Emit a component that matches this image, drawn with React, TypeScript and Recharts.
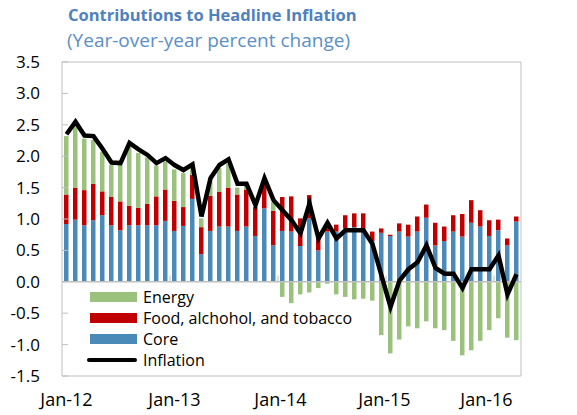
import React from 'react';
import { ComposedChart, Bar, Line, XAxis, YAxis, ReferenceLine } from 'recharts';

const monthNames = ['Jan', 'Feb', 'Mar', 'Apr', 'May', 'Jun', 'Jul', 'Aug', 'Sep', 'Oct', 'Nov', 'Dec'];
const years = ['12', '13', '14', '15', '16'];
const months: string[] = [];
years.forEach(y => monthNames.forEach(m => months.push(`${m}-${y}`)));
months.length = 51; // Jan-12 .. Mar-16

const core = [
  0.92, 0.99, 0.90, 0.98, 1.06, 0.90, 0.82, 0.90, 0.90, 0.90, 0.90, 0.97,
  0.81, 0.89, 1.32, 0.44, 0.81, 0.88, 0.88, 0.81, 0.88, 0.73, 1.17, 0.58,
  0.81, 0.80, 0.57, 1.01, 0.50, 0.80, 0.80, 0.85, 0.87, 0.85, 0.65, 0.78,
  0.73, 0.80, 0.72, 0.80, 1.02, 0.58, 0.65, 0.80, 0.72, 0.94, 0.88, 0.73,
  0.82, 0.58, 0.96,
];
const food = [
  0.47, 0.51, 0.56, 0.58, 0.38, 0.45, 0.46, 0.31, 0.28, 0.34, 0.46, 0.50,
  0.48, 0.30, 0.38, 0.43, 0.56, 0.55, 0.62, 0.58, 0.59, 0.46, 0.45, 0.55,
  0.54, 0.56, 0.44, 0.37, 0.22, 0.14, 0.11, 0.21, 0.22, 0.24, 0.15, 0.07,
  0.02, 0.13, 0.19, 0.24, 0.21, 0.36, 0.23, 0.26, 0.36, 0.36, 0.26, 0.25,
  0.17, 0.11, 0.08,
];
const energy = [
  0.93, 1.00, 0.82, 0.70, 0.63, 0.51, 0.58, 0.94, 0.87, 0.74, 0.49, 0.45,
  0.50, 0.54, 0.12, 0.14, 0.23, 0.38, 0.38, 0.11, 0.06, 0.00, 0.00, 0.14,
  -0.24, -0.34, -0.20, -0.17, -0.10, -0.03, -0.20, -0.24, -0.28, -0.27, -0.30, -0.85,
  -1.14, -0.92, -0.71, -0.74, -0.63, -0.74, -0.77, -0.94, -1.17, -1.09, -0.94, -0.77,
  -0.58, -0.89, -0.93,
];
const inflation = [
  2.35, 2.55, 2.33, 2.32, 2.12, 1.90, 1.89, 2.21, 2.11, 2.02, 1.89, 1.97,
  1.86, 1.78, 1.87, 1.04, 1.65, 1.86, 1.95, 1.56, 1.56, 1.22, 1.65, 1.30,
  1.14, 0.98, 0.77, 1.25, 0.69, 0.94, 0.69, 0.82, 0.82, 0.82, 0.60, 0.10,
  -0.40, 0.02, 0.20, 0.31, 0.58, 0.22, 0.13, 0.13, -0.10, 0.20, 0.20, 0.20,
  0.42, -0.20, 0.12,
];

const yTicks = [-1.5, -1, -0.5, 0, 0.5, 1, 1.5, 2, 2.5, 3, 3.5];
const xTicks = ['Jan-12', 'Jan-13', 'Jan-14', 'Jan-15', 'Jan-16'];
const yearBreaks = [12, 24, 36, 48];

const data = months.map((m, i) => ({
  month: m,
  idx: i + 0.5,
  core: core[i],
  food: food[i],
  energy: energy[i],
  inflation: inflation[i],
}));

const FONT = '"Open Sans", sans-serif';
const GRAY = '#bfbfbf';
const BLUE = '#4a8ab8';
const RED = '#c00000';
const GREEN = '#9bc27c';

// the source spreads its year labels slightly tighter than the bars
const labelShift: Record<string, number> = { 'Jan-12': 0, 'Jan-13': 0, 'Jan-14': -2, 'Jan-15': -6, 'Jan-16': -12 };

const LeftTick = ({ x, y, payload }: any) => (
  <g>
    <line x1={x} x2={x + 6} y1={y} y2={y} stroke={GRAY} />
    <text x={x - 22} y={y} dy="0.35em" textAnchor="end" fontSize={17} fill="#000" fontFamily={FONT}>
      {payload.value.toFixed(1)}
    </text>
  </g>
);

const RightTick = ({ x, y, payload }: any) => (
  <g>
    <line x1={x - 6} x2={x} y1={y} y2={y} stroke={GRAY} />
    <text x={x + 45} y={y} dy="0.35em" textAnchor="end" fontSize={17} fill="#000" fontFamily={FONT}>
      {payload.value.toFixed(1)}
    </text>
  </g>
);

const BottomTick = ({ x, y, payload }: any) => (
  <text x={x + (labelShift[payload.value] || 0)} y={y + 30} textAnchor="middle" fontSize={18} fill="#000" fontFamily={FONT}>
    {payload.value}
  </text>
);

const legendItems = [
  { name: 'Energy', color: GREEN, kind: 'bar' },
  { name: 'Food, alchohol, and tobacco', color: RED, kind: 'bar' },
  { name: 'Core', color: BLUE, kind: 'bar' },
  { name: 'Inflation', color: '#000', kind: 'line' },
];

export default function App() {
  return (
    <div style={{ position: 'absolute', left: 0, top: 0, width: 577, height: 415, background: '#fff', fontFamily: FONT }}>
      <div style={{ position: 'absolute', left: 68, top: 3, fontSize: 16.5, fontWeight: 700, color: '#4f81bd', whiteSpace: 'nowrap' }}>
        Contributions to Headline Inflation
      </div>
      <div style={{ position: 'absolute', left: 67, top: 27, fontSize: 19, color: '#5b8fc6', whiteSpace: 'nowrap' }}>
        (Year-over-year percent change)
      </div>
      <ComposedChart
        width={577}
        height={415}
        data={data}
        stackOffset="sign"
        barCategoryGap={0}
        margin={{ top: 62, right: 0, bottom: 0, left: 0 }}
      >
        <XAxis
          dataKey="month"
          ticks={xTicks}
          interval={0}
          height={39}
          tickSize={0}
          tickMargin={0}
          tickLine={false}
          axisLine={{ stroke: GRAY }}
          tick={<BottomTick />}
        />
        <XAxis xAxisId="num" dataKey="idx" type="number" domain={[0, 51]} hide />
        <YAxis
          yAxisId="left"
          domain={[-1.5, 3.5]}
          ticks={yTicks}
          width={62}
          tickSize={0}
          tickMargin={0}
          tickLine={false}
          axisLine={{ stroke: GRAY }}
          tick={<LeftTick />}
        />
        <YAxis
          yAxisId="right"
          orientation="right"
          domain={[-1.5, 3.5]}
          ticks={yTicks}
          width={56}
          tickSize={0}
          tickMargin={0}
          tickLine={false}
          axisLine={{ stroke: GRAY }}
          tick={<RightTick />}
        />
        <ReferenceLine yAxisId="left" y={3.5} stroke={GRAY} />
        <ReferenceLine yAxisId="left" y={0} stroke={GRAY} strokeWidth={1.5} />
        {yearBreaks.map(b => (
          <ReferenceLine
            key={b}
            xAxisId="num"
            yAxisId="left"
            segment={[{ x: b, y: 0 }, { x: b, y: 0.1 }]}
            stroke={GRAY}
          />
        ))}
        <Bar yAxisId="left" dataKey="core" stackId="a" fill={BLUE} barSize={4.5} isAnimationActive={false} />
        <Bar yAxisId="left" dataKey="food" stackId="a" fill={RED} barSize={4.5} isAnimationActive={false} />
        <Bar yAxisId="left" dataKey="energy" stackId="a" fill={GREEN} barSize={4.5} isAnimationActive={false} />
        <Line
          yAxisId="left"
          dataKey="inflation"
          stroke="#000"
          strokeWidth={4.5}
          dot={false}
          activeDot={false}
          isAnimationActive={false}
        />
      </ComposedChart>
      <div style={{ position: 'absolute', left: 87, top: 286 }}>
        {legendItems.map(it => (
          <div key={it.name} style={{ display: 'flex', alignItems: 'center', height: 21 }}>
            {it.kind === 'bar' ? (
              <div style={{ width: 47, height: 10, background: it.color, marginLeft: 3 }} />
            ) : (
              <div style={{ width: 50, height: 4, background: it.color, borderRadius: 2 }} />
            )}
            <span style={{ marginLeft: 6, fontSize: 16, color: '#000', whiteSpace: 'nowrap' }}>{it.name}</span>
          </div>
        ))}
      </div>
    </div>
  );
}
